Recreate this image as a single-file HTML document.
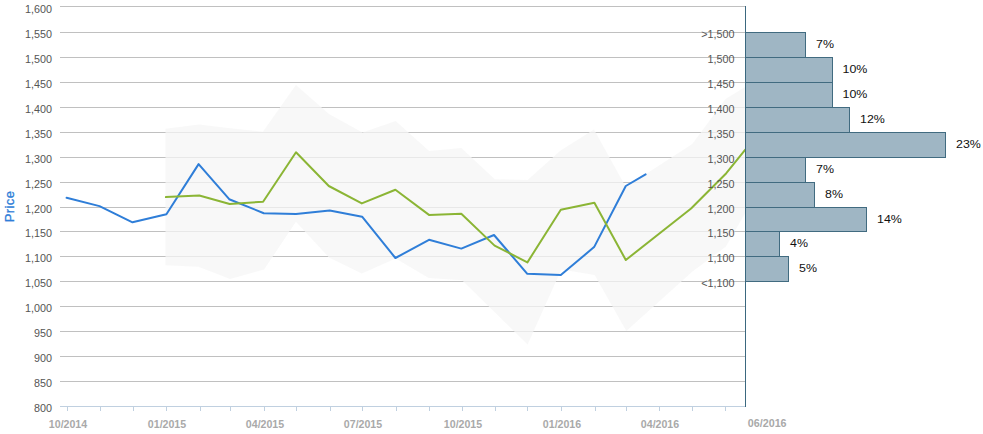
<!DOCTYPE html>
<html><head><meta charset="utf-8"><title>Price chart</title>
<style>
html,body{margin:0;padding:0;background:#fff;}
body{width:983px;height:434px;overflow:hidden;}
svg{display:block;}
text{font-family:"Liberation Sans",sans-serif;}
</style></head><body>
<svg width="983" height="434" viewBox="0 0 983 434">
<rect x="0" y="0" width="983" height="434" fill="#ffffff"/>
<g shape-rendering="crispEdges" fill="#c0c0c0">
<rect x="60" y="6" width="685" height="1"/>
<rect x="60" y="32" width="685" height="1"/>
<rect x="60" y="57" width="685" height="1"/>
<rect x="60" y="82" width="685" height="1"/>
<rect x="60" y="107" width="685" height="1"/>
<rect x="60" y="132" width="685" height="1"/>
<rect x="60" y="157" width="685" height="1"/>
<rect x="60" y="182" width="685" height="1"/>
<rect x="60" y="207" width="685" height="1"/>
<rect x="60" y="231" width="685" height="1"/>
<rect x="60" y="256" width="685" height="1"/>
<rect x="60" y="281" width="685" height="1"/>
<rect x="60" y="306" width="685" height="1"/>
<rect x="60" y="331" width="685" height="1"/>
<rect x="60" y="356" width="685" height="1"/>
<rect x="60" y="381" width="685" height="1"/>
</g>
<polygon points="165.5,128.8 199.1,124.6 230.0,128.2 262.9,131.8 295.9,85.0 329.0,114.0 362.5,132.6 395.7,121.1 429.1,151.1 461.4,148.1 494.8,179.2 527.6,179.9 560.6,150.4 594.0,129.6 625.8,187.0 692.3,144.0 725.5,99.0 745.0,87.0 745.0,213.5 725.7,246.7 692.5,271.5 626.3,331.1 594.7,274.9 561.3,269.6 527.6,344.5 495.0,312.5 462.1,280.3 428.7,278.0 395.7,258.4 361.8,273.4 329.0,257.5 295.9,221.8 264.1,269.5 230.2,279.0 198.4,266.8 165.5,265.2" fill="#f5f5f5" fill-opacity="0.75"/>
<g shape-rendering="crispEdges" fill="#c0d0e0">
<rect x="60" y="406" width="686" height="1"/>
<rect x="67" y="407" width="1" height="4"/>
<rect x="100" y="407" width="1" height="4"/>
<rect x="133" y="407" width="1" height="4"/>
<rect x="166" y="407" width="1" height="4"/>
<rect x="200" y="407" width="1" height="4"/>
<rect x="230" y="407" width="1" height="4"/>
<rect x="264" y="407" width="1" height="4"/>
<rect x="296" y="407" width="1" height="4"/>
<rect x="330" y="407" width="1" height="4"/>
<rect x="362" y="407" width="1" height="4"/>
<rect x="396" y="407" width="1" height="4"/>
<rect x="429" y="407" width="1" height="4"/>
<rect x="462" y="407" width="1" height="4"/>
<rect x="495" y="407" width="1" height="4"/>
<rect x="527" y="407" width="1" height="4"/>
<rect x="561" y="407" width="1" height="4"/>
<rect x="595" y="407" width="1" height="4"/>
<rect x="626" y="407" width="1" height="4"/>
<rect x="659" y="407" width="1" height="4"/>
<rect x="692" y="407" width="1" height="4"/>
<rect x="725" y="407" width="1" height="4"/>
</g>
<polyline points="66.6,197.8 99.5,206.1 132.5,222.3 166.4,214.2 198.6,164.1 229.2,199.2 263.8,213.2 296.0,214.1 329.7,210.6 362.1,216.7 395.4,258.0 429.0,239.8 461.3,248.6 494.0,235.0 527.3,273.8 560.8,275.0 594.1,247.1 625.8,186.0 645.6,174.4" fill="none" stroke="#2f7ed8" stroke-width="2" stroke-linejoin="round" stroke-linecap="round"/>
<polyline points="165.9,197.1 199.3,195.5 229.7,204.0 263.1,201.7 296.0,152.3 328.8,186.0 361.8,203.4 395.4,189.8 429.0,214.9 461.3,213.8 494.6,245.6 527.4,262.4 560.8,209.7 594.4,202.8 625.8,260.0 691.1,208.5 726.3,173.2 745.3,149.6" fill="none" stroke="#8bb535" stroke-width="2" stroke-linejoin="round" stroke-linecap="round"/>
<g shape-rendering="crispEdges">
<rect x="745.5" y="32.5" width="60.0" height="25" fill="#9fb6c4" stroke="#416b80" stroke-width="1"/>
<rect x="745.5" y="57.5" width="86.5" height="25" fill="#9fb6c4" stroke="#416b80" stroke-width="1"/>
<rect x="745.5" y="82.5" width="86.5" height="25" fill="#9fb6c4" stroke="#416b80" stroke-width="1"/>
<rect x="745.5" y="107.5" width="104.0" height="25" fill="#9fb6c4" stroke="#416b80" stroke-width="1"/>
<rect x="745.5" y="132.5" width="200.0" height="25" fill="#9fb6c4" stroke="#416b80" stroke-width="1"/>
<rect x="745.5" y="157.5" width="60.0" height="25" fill="#9fb6c4" stroke="#416b80" stroke-width="1"/>
<rect x="745.5" y="182.5" width="69.0" height="25" fill="#9fb6c4" stroke="#416b80" stroke-width="1"/>
<rect x="745.5" y="207.5" width="121.0" height="24" fill="#9fb6c4" stroke="#416b80" stroke-width="1"/>
<rect x="745.5" y="231.5" width="34.0" height="25" fill="#9fb6c4" stroke="#416b80" stroke-width="1"/>
<rect x="745.5" y="256.5" width="43.0" height="25" fill="#9fb6c4" stroke="#416b80" stroke-width="1"/>
<rect x="745" y="6" width="1" height="401" fill="#3b687f"/>
</g>
<g font-size="11" fill="#555555" text-anchor="end">
<text transform="translate(52,13) scale(0.98,1)">1,600</text>
<text transform="translate(52,38) scale(0.98,1)">1,550</text>
<text transform="translate(52,63) scale(0.98,1)">1,500</text>
<text transform="translate(52,88) scale(0.98,1)">1,450</text>
<text transform="translate(52,113) scale(0.98,1)">1,400</text>
<text transform="translate(52,138) scale(0.98,1)">1,350</text>
<text transform="translate(52,163) scale(0.98,1)">1,300</text>
<text transform="translate(52,188) scale(0.98,1)">1,250</text>
<text transform="translate(52,213) scale(0.98,1)">1,200</text>
<text transform="translate(52,237) scale(0.98,1)">1,150</text>
<text transform="translate(52,262) scale(0.98,1)">1,100</text>
<text transform="translate(52,287) scale(0.98,1)">1,050</text>
<text transform="translate(52,312) scale(0.98,1)">1,000</text>
<text transform="translate(52,337) scale(0.98,1)">950</text>
<text transform="translate(52,362) scale(0.98,1)">900</text>
<text transform="translate(52,387) scale(0.98,1)">850</text>
<text transform="translate(52,412) scale(0.98,1)">800</text>
</g>
<g font-size="11" fill="#555555" text-anchor="end">
<text transform="translate(734.4,38) scale(0.98,1)">&gt;1,500</text>
<text transform="translate(734.4,63) scale(0.98,1)">1,500</text>
<text transform="translate(734.4,88) scale(0.98,1)">1,450</text>
<text transform="translate(734.4,113) scale(0.98,1)">1,400</text>
<text transform="translate(734.4,138) scale(0.98,1)">1,350</text>
<text transform="translate(734.4,163) scale(0.98,1)">1,300</text>
<text transform="translate(734.4,188) scale(0.98,1)">1,250</text>
<text transform="translate(734.4,213) scale(0.98,1)">1,200</text>
<text transform="translate(734.4,237) scale(0.98,1)">1,150</text>
<text transform="translate(734.4,262) scale(0.98,1)">1,100</text>
<text transform="translate(734.4,287) scale(0.98,1)">&lt;1,100</text>
</g>
<g font-size="11" fill="#111111">
<text transform="translate(816.0,48) scale(1.13,1)">7%</text>
<text transform="translate(842.5,73) scale(1.13,1)">10%</text>
<text transform="translate(842.5,98) scale(1.13,1)">10%</text>
<text transform="translate(860.0,123) scale(1.13,1)">12%</text>
<text transform="translate(956.0,148) scale(1.13,1)">23%</text>
<text transform="translate(816.0,173) scale(1.13,1)">7%</text>
<text transform="translate(825.0,198) scale(1.13,1)">8%</text>
<text transform="translate(877.0,223) scale(1.13,1)">14%</text>
<text transform="translate(790.0,247) scale(1.13,1)">4%</text>
<text transform="translate(799.0,272) scale(1.13,1)">5%</text>
</g>
<g font-size="11" font-weight="bold" fill="#a9a9a9" text-anchor="middle">
<text transform="translate(68.0,428) scale(0.965,1)">10/2014</text>
<text transform="translate(167.0,428) scale(0.965,1)">01/2015</text>
<text transform="translate(265.0,428) scale(0.965,1)">04/2015</text>
<text transform="translate(363.0,428) scale(0.965,1)">07/2015</text>
<text transform="translate(463.0,428) scale(0.965,1)">10/2015</text>
<text transform="translate(562.0,428) scale(0.965,1)">01/2016</text>
<text transform="translate(660.0,428) scale(0.965,1)">04/2016</text>
<text transform="translate(767.2,426.5) scale(0.975,1)">06/2016</text>
</g>
<text transform="translate(14.2,222.3) rotate(-90)" font-size="13" letter-spacing="0.4" fill="#2f7ed8" stroke="#2f7ed8" stroke-width="0.3">Price</text>
</svg>
</body></html>
